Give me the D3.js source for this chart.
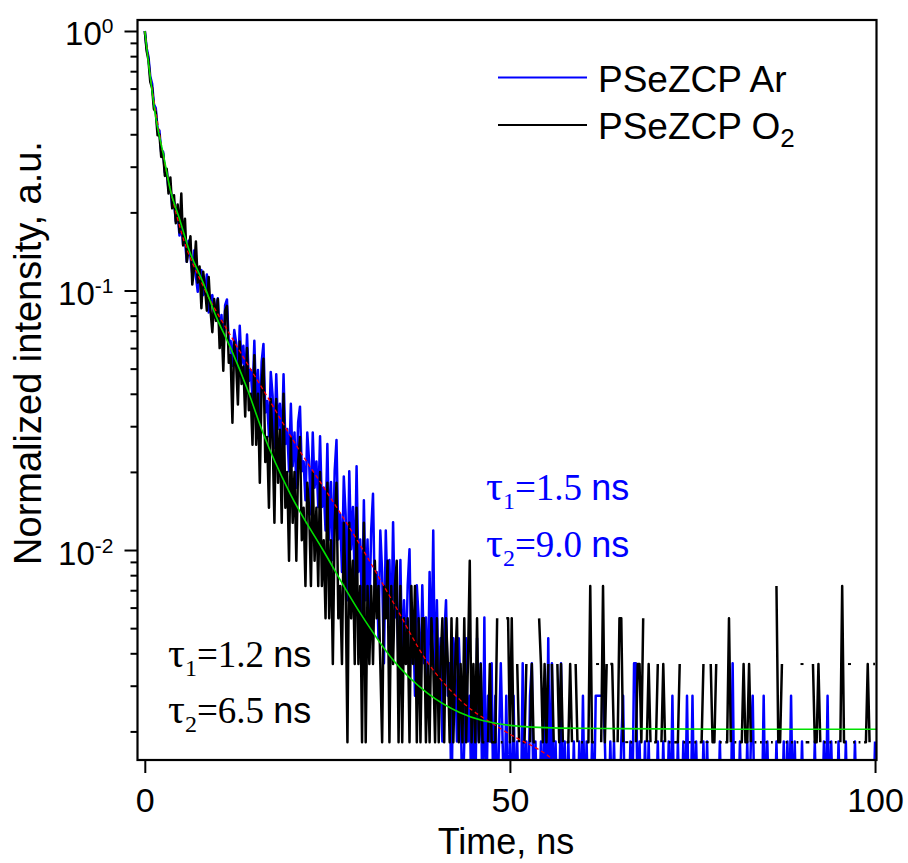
<!DOCTYPE html>
<html>
<head>
<meta charset="utf-8">
<script src="https://cdn.jsdelivr.net/npm/d3@7"></script>
<style>
  body { margin: 0; background: #fff; }
  svg { display: block; }
</style>
</head>
<body>
<svg id="chart" width="908" height="863"></svg>
<script>
// time channel width, ns
const binNs = 0.25;

// photon counts per channel, PSeZCP under Ar (first entry = peak)
const countsAr = [
  1093, 940, 870, 730, 685, 570, 552, 458, 452, 372, 375, 312, 318, 266, 276, 230, 240, 202, 216, 178,
  199, 164, 171, 141, 170, 147, 127, 156, 124, 108, 129, 131, 105, 108, 126, 90, 101, 105, 86, 95,
  102, 74, 88, 66, 96, 101, 68, 70, 56, 77, 69, 50, 80, 57, 67, 48, 74, 49, 54, 42,
  70, 40, 54, 34, 58, 68, 37, 41, 30, 53, 43, 27, 52, 32, 40, 27, 52, 28, 32, 22,
  40, 23, 31, 19, 34, 39, 22, 24, 17, 31, 24, 15, 31, 19, 24, 16, 30, 16, 19, 13,
  28, 12, 20, 10, 22, 29, 12, 15, 9, 21, 15, 7, 22, 11, 16, 8, 23, 9, 12, 6,
  17, 7, 12, 6, 13, 18, 7, 9, 5, 13, 9, 4, 13, 7, 10, 5, 14, 6, 7, 4,
  10, 4, 7, 4, 8, 11, 4, 6, 3, 8, 6, 3, 8, 4, 6, 3, 9, 4, 13, 3,
  7, 3, 5, 2, 5, 7, 3, 4, 1, 5, 4, 2, 5, 3, 1, 2, 5, 2, 3, 1,
  3, 1, 5, 2, 4, 1, 6, 1, 3, 2, 4, 1, 3, 1, 2, 4, 2, 1, 3, 1,
  2, 1, 3, 1, 2, 1, 1, 4, 1, 2, 1, 3, 4, 1, 2, 1, 1, 2, 1, 3,
  1, 5, 1, 4, 1, 2, 1, 1, 4, 1, 2, 1, 2, 1, 1, 2, 1, 1, 2, 1,
  3, 1, 2, 1, 1, 2, 1, 3, 3, 3, 3, 3, 2, 1, 1, 2, 1, 2, 1, 1,
  1, 2, 3, 1, 1, 1, 2, 1, 4, 4, 1, 2, 1, 1, 2, 1, 2, 1, 1, 1,
  1, 2, 1, 1, 2, 1, 1, 2, 1, 3, 1, 1, 2, 1, 1, 2, 1, 3, 1, 1,
  3, 1, 2, 1, 1, 1, 2, 1, 2, 1, 1, 1, 1, 1, 1, 2, 1, 1, 1, 1,
  1, 1, 4, 1, 1, 1, 2, 1, 1, 1, 2, 1, 2, 3, 1, 1, 1, 1, 1, 3,
  1, 2, 1, 1, 1, 1, 2, 1, 1, 1, 2, 1, 2, 1, 3, 1, 2, 1, 1, 1,
  2, 1, 1, 1, 1, 1, 1, 2, 1, 1, 1, 1, 2, 1, 3, 1, 2, 1, 1, 1,
  2, 1, 1, 1, 2, 1, 1, 1, 1, 2, 1, 1, 1, 1, 1, 1, 1, 1, 1, 1,
  2
];

// photon counts per channel, PSeZCP under O2 (first entry = peak)
const countsO2 = [
  550, 462, 425, 350, 332, 275, 268, 218, 220, 180, 186, 152, 162, 130, 150, 114, 128, 100, 118, 92,
  130, 82, 104, 71, 80, 89, 58, 67, 85, 59, 68, 47, 65, 56, 46, 62, 46, 38, 51, 42,
  51, 33, 42, 27, 46, 48, 29, 31, 17, 35, 29, 20, 35, 24, 28, 18, 33, 19, 22, 14,
  31, 14, 22, 10, 24, 30, 12, 15, 8, 21, 15, 7, 21, 10, 16, 7, 22, 8, 11, 5,
  15, 7, 11, 5, 12, 15, 6, 8, 4, 10, 8, 4, 11, 5, 8, 4, 11, 4, 6, 3,
  10, 3, 6, 2, 7, 10, 3, 4, 2, 7, 4, 1, 7, 3, 5, 2, 8, 2, 4, 1,
  7, 1, 4, 2, 4, 2, 5, 3, 4, 2, 1, 4, 3, 5, 1, 4, 2, 4, 5, 1,
  4, 1, 3, 2, 3, 1, 4, 2, 4, 1, 3, 1, 3, 3, 1, 2, 1, 3, 2, 1,
  3, 1, 2, 3, 1, 3, 2, 1, 3, 1, 2, 3, 1, 2, 1, 3, 1, 2, 5, 1,
  2, 1, 3, 1, 2, 1, 1, 0, 1, 2, 1, 1, 1, 3, 0, 1, 1, 0, 3, 3,
  1, 3, 1, 0, 2, 1, 0, 1, 1, 2, 0, 1, 2, 1, 1, 0, 3, 2, 1, 2,
  1, 2, 0, 2, 1, 0, 2, 1, 2, 1, 0, 1, 1, 2, 1, 0, 2, 1, 0, 1,
  1, 0, 1, 1, 4, 1, 1, 0, 2, 0, 1, 4, 1, 2, 0, 2, 2, 1, 0, 1,
  3, 3, 1, 0, 1, 0, 1, 1, 0, 1, 2, 2, 1, 3, 0, 1, 2, 1, 0, 1,
  1, 2, 0, 1, 2, 1, 0, 1, 1, 0, 1, 1, 1, 2, 0, 1, 1, 0, 1, 1,
  0, 1, 1, 0, 1, 1, 2, 0, 1, 0, 2, 1, 1, 2, 0, 1, 1, 0, 1, 1,
  3, 1, 0, 1, 1, 0, 1, 1, 2, 1, 1, 2, 1, 0, 1, 1, 0, 1, 1, 0,
  1, 1, 0, 1, 1, 0, 4, 1, 1, 2, 0, 1, 1, 0, 1, 1, 0, 1, 1, 0,
  2, 0, 1, 1, 1, 0, 2, 1, 1, 2, 1, 0, 1, 1, 0, 1, 1, 0, 1, 1,
  0, 1, 4, 1, 1, 0, 2, 0, 1, 1, 0, 1, 1, 0, 1, 1, 2, 1, 0, 2,
  2
];

// biexponential fit curves
const fitArTime  = [0, 0.5, 1, 1.5, 2.5, 5, 8, 12.1, 16.8, 20.9, 25, 29.1, 34, 38.7, 43.2, 49.1, 56, 60];
const fitArValue = [1, 0.77, 0.6, 0.49, 0.335, 0.168, 0.104, 0.0645, 0.0389, 0.0249, 0.0166, 0.0109, 0.0063, 0.0037, 0.00264, 0.00202, 0.00155, 0.0012];
const fitO2Time  = [0, 0.5, 1, 1.5, 2.5, 3.5, 4.8, 6, 8, 9.8, 11.7, 14, 16.2, 19.9, 24.4, 29.5, 34, 38.7, 43.2, 50, 56.8, 65, 80, 100.2];
const fitO2Value = [1, 0.755, 0.585, 0.465, 0.339, 0.244, 0.187, 0.145, 0.107, 0.079, 0.0605, 0.042, 0.0282, 0.0165, 0.0100, 0.00571, 0.00377, 0.00281, 0.00236, 0.00211, 0.00206, 0.00205, 0.00204, 0.00204];

const xTicks = [0, 50, 100];
const yDecades = [1, 0.1, 0.01];
const legendLabels = ["PSeZCP Ar", "PSeZCP O"];
const lifetimesAr = ["1.5", "9.0"];
const lifetimesO2 = ["1.2", "6.5"];

const plot = { left: 137.5, right: 876.5, top: 20, bottom: 760 };
const sans = "Liberation Sans, Arial, sans-serif";
const serif = "Liberation Serif, Times New Roman, serif";

const svg = d3.select("#chart");

const x = d3.scaleLinear().domain([-1, 100.2]).range([plot.left, plot.right]);
const y = d3.scaleLog().domain([0.001552, 1.1025]).range([plot.bottom, plot.top]);

// normalised decay points; zero counts are left out on the log axis
function toPoints(counts) {
    return counts.map((c, i) => ({ t: i * binNs, v: c / counts[0] }));
}

svg.append("defs").append("clipPath").attr("id", "plotClip")
    .append("rect")
    .attr("x", plot.left).attr("y", plot.top)
    .attr("width", plot.right - plot.left).attr("height", plot.bottom - plot.top);

const area = svg.append("g").attr("clip-path", "url(#plotClip)");

const line = d3.line()
    .defined(d => d.v > 0)
    .x(d => x(d.t))
    .y(d => y(d.v));

function drawDecay(points, color) {
    area.append("path")
        .datum(points)
        .attr("d", line)
        .attr("fill", "none")
        .attr("stroke", color)
        .attr("stroke-width", 2.5)
        .attr("stroke-linejoin", "round");

    // single channels between empty ones still show as a dot
    const lone = points.filter((p, i) => p.v > 0 && !(points[i - 1] && points[i - 1].v > 0) && !(points[i + 1] && points[i + 1].v > 0));
    area.selectAll(null)
        .data(lone)
        .enter().append("rect")
        .attr("x", d => x(d.t) - 1.5)
        .attr("y", d => y(d.v) - 1)
        .attr("width", 3)
        .attr("height", 2)
        .attr("fill", color);
}

drawDecay(toPoints(countsAr), "#0000ff");
drawDecay(toPoints(countsO2), "#000000");

const fitLine = d3.line()
    .x(d => x(d.t))
    .y(d => y(d.v))
    .curve(d3.curveMonotoneX);

area.append("path")
    .datum(fitArTime.map((t, i) => ({ t, v: fitArValue[i] })))
    .attr("d", fitLine)
    .attr("fill", "none")
    .attr("stroke", "#ff0000")
    .attr("stroke-width", 1.3)
    .attr("stroke-dasharray", "4,3");

area.append("path")
    .datum(fitO2Time.map((t, i) => ({ t, v: fitO2Value[i] })))
    .attr("d", fitLine)
    .attr("fill", "none")
    .attr("stroke", "#00e000")
    .attr("stroke-width", 1.6);

// axes
const xAxis = svg.append("g")
    .attr("transform", `translate(0,${plot.bottom})`)
    .call(d3.axisBottom(x).tickValues(xTicks).tickSize(13).tickPadding(15).tickFormat(d3.format("d")));

const minorValues = [];
yDecades.concat([0.001]).forEach(dec => {
    for (let k = 2; k <= 9; k++) {
        const v = dec * k;
        if (v >= y.domain()[0] && v <= y.domain()[1]) minorValues.push(v);
    }
});

const yMinor = svg.append("g")
    .attr("transform", `translate(${plot.left},0)`)
    .call(d3.axisLeft(y).tickValues(minorValues).tickSize(7).tickFormat(""));

const yAxis = svg.append("g")
    .attr("transform", `translate(${plot.left},0)`)
    .call(d3.axisLeft(y).tickValues(yDecades).tickSize(13).tickFormat(""));

[xAxis, yMinor, yAxis].forEach(g => {
    g.select(".domain").remove();
    g.selectAll(".tick line").attr("stroke", "#000").attr("stroke-width", 2);
});

xAxis.selectAll(".tick text")
    .attr("font-family", sans)
    .attr("font-size", 34)
    .attr("fill", "#000");

yAxis.selectAll(".tick").each(function(d) {
    const label = d3.select(this).append("text")
        .attr("x", -24)
        .attr("y", 14)
        .attr("text-anchor", "end")
        .attr("font-family", sans)
        .attr("font-size", 33)
        .attr("fill", "#000");
    label.append("tspan").text("10");
    label.append("tspan")
        .attr("dy", -12)
        .attr("font-size", 21)
        .text(String(Math.round(Math.log10(d))));
});

// frame
svg.append("rect")
    .attr("x", plot.left).attr("y", plot.top)
    .attr("width", plot.right - plot.left).attr("height", plot.bottom - plot.top)
    .attr("fill", "none")
    .attr("stroke", "#000")
    .attr("stroke-width", 2.2);

// axis titles
svg.append("text")
    .attr("x", 506).attr("y", 854)
    .attr("text-anchor", "middle")
    .attr("font-family", sans).attr("font-size", 36)
    .text("Time, ns");

svg.append("text")
    .attr("transform", "translate(41,353) rotate(-90)")
    .attr("text-anchor", "middle")
    .attr("font-family", sans).attr("font-size", 38)
    .text("Normalized intensity, a.u.");

// legend
const legendColors = ["#0000ff", "#000000"];
const legendY = [77.5, 125];
legendLabels.forEach((label, i) => {
    svg.append("line")
        .attr("x1", 498).attr("x2", 587)
        .attr("y1", legendY[i]).attr("y2", legendY[i])
        .attr("stroke", legendColors[i]).attr("stroke-width", 2);
    const t = svg.append("text")
        .attr("x", 598).attr("y", legendY[i] + 14)
        .attr("font-family", sans).attr("font-size", 37)
        .text(label);
    if (i === 1) {
        t.append("tspan").attr("dy", 8).attr("font-size", 26).text("2");
    }
});

// lifetime annotations
function lifetime(xPos, yPos, sub, value, color) {
    const t = svg.append("text")
        .attr("x", xPos).attr("y", yPos)
        .attr("font-family", serif).attr("font-size", 37)
        .attr("fill", color);
    t.append("tspan").attr("font-size", 42).text("\u03c4");
    t.append("tspan").attr("dy", 9).attr("font-size", 24).text(sub);
    t.append("tspan").attr("dy", -9).text("=" + value + " ");
    t.append("tspan").attr("font-family", sans).attr("font-size", 36).text("ns");
}

lifetime(486, 500, "1", lifetimesAr[0], "#0000ff");
lifetime(486, 557, "2", lifetimesAr[1], "#0000ff");
lifetime(168, 667, "1", lifetimesO2[0], "#000000");
lifetime(168, 723, "2", lifetimesO2[1], "#000000");
</script>
</body>
</html>
